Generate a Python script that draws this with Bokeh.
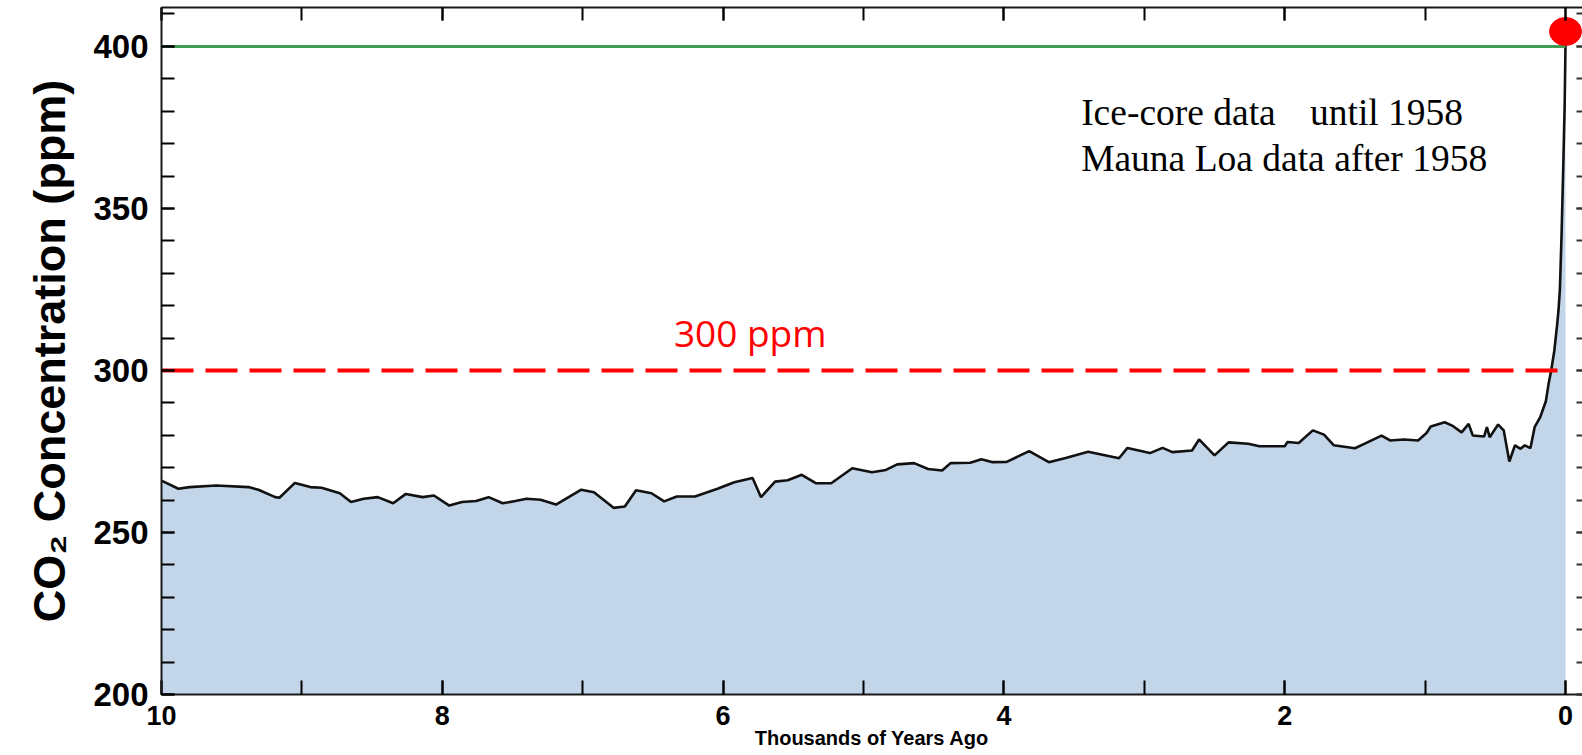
from bokeh.plotting import figure
from bokeh.models import Range1d, LinearAxis, SingleIntervalTicker, Label
from bokeh.embed import file_html
from bokeh.resources import INLINE

# ---- data (thousands of years ago, CO2 ppm) ----
years_ago = [10.0, 9.88, 9.80, 9.61, 9.38, 9.31, 9.19, 9.16, 9.05, 8.94, 8.86, 8.73, 8.65, 8.56,
             8.46, 8.35, 8.26, 8.14, 8.06, 7.95, 7.86, 7.76, 7.67, 7.57, 7.48, 7.40, 7.30, 7.19,
             7.01, 6.92, 6.78, 6.70, 6.62, 6.51, 6.42, 6.33, 6.20, 6.04, 5.92, 5.79, 5.73, 5.63,
             5.54, 5.44, 5.34, 5.23, 5.08, 4.94, 4.84, 4.76, 4.64, 4.54, 4.44, 4.38, 4.24, 4.16,
             4.08, 3.98, 3.82, 3.68, 3.56, 3.40, 3.18, 3.12, 2.96, 2.87, 2.80, 2.66, 2.61, 2.50,
             2.40, 2.26, 2.18, 2.00, 1.98, 1.90, 1.80, 1.72, 1.65, 1.50, 1.43, 1.31, 1.25, 1.15,
             1.05, 0.99, 0.96, 0.86, 0.80, 0.74, 0.69, 0.66, 0.58, 0.56, 0.54, 0.48, 0.44, 0.40,
             0.36, 0.32, 0.29, 0.25, 0.22, 0.18, 0.14, 0.12, 0.10, 0.08, 0.06, 0.05, 0.04, 0.028,
             0.016, 0.006, 0.0]
co2_ppm = [266.0, 263.5, 264.0, 264.5, 264.0, 263.2, 260.9, 260.7, 265.3, 264.0, 263.8, 262.1, 259.4, 260.4,
           260.9, 259.0, 261.9, 260.9, 261.4, 258.3, 259.4, 259.7, 260.9, 259.0, 259.7, 260.4, 260.1, 258.6,
           263.2, 262.4, 257.6, 258.0, 263.0, 262.1, 259.6, 261.1, 261.1, 263.5, 265.5, 266.8, 260.9, 265.7,
           266.1, 267.8, 265.2, 265.2, 269.8, 268.6, 269.3, 271.0, 271.4, 269.6, 269.1, 271.4, 271.5, 272.6,
           271.7, 271.8, 275.1, 271.7, 273.0, 274.9, 272.9, 276.1, 274.5, 276.1, 274.8, 275.3, 278.7, 273.8,
           277.8, 277.4, 276.6, 276.6, 277.9, 277.6, 281.5, 280.2, 276.9, 276.0, 277.4, 279.9, 278.4, 278.7,
           278.4, 280.7, 282.7, 284.0, 282.8, 280.9, 283.5, 279.9, 279.6, 282.5, 279.4, 283.3, 281.5, 271.9,
           276.9, 275.8, 276.9, 276.0, 282.5, 285.6, 290.5, 296.0, 300.5, 306.0, 314.0, 318.5, 325.0, 342.0,
           363.0, 382.0, 401.0]

latest_year = [0.0]
latest_co2 = [404.6]

level_300 = 300
level_400 = 400
ppm_label = "300 ppm"
note_line1_left = "Ice-core data"
note_line1_right = "until 1958"
note_line2 = "Mauna Loa data after 1958"
x_title = "Thousands of Years Ago"
y_title = "CO\u2082 Concentration (ppm)"

# ---- figure ----
p = figure(width=1582, height=754, output_backend="svg", toolbar_location=None,
           x_range=Range1d(10, -0.121), y_range=Range1d(200, 412.0),
           min_border_left=161, min_border_right=0, min_border_top=7, min_border_bottom=60,
           background_fill_color="white", border_fill_color="white")
p.grid.visible = False
p.outline_line_color = None

span_x = [years_ago[0], years_ago[-1]]

p.varea(x=years_ago, y1=[200] * len(years_ago), y2=co2_ppm, fill_color="#c3d5e9")
p.line(x=years_ago, y=co2_ppm, line_color="#111111", line_width=2.6)

p.line(x=span_x, y=[level_400, level_400], line_color="#3f9c52", line_width=3)
p.line(x=span_x, y=[level_300, level_300], line_color="#ff0000", line_width=4, line_dash="32 12")

p.ellipse(x=latest_year, y=latest_co2, width=32, height=28, width_units="screen",
          height_units="screen", fill_color="#ff0000", line_color="#ff0000")

# ---- axes ----
xt = SingleIntervalTicker(interval=2, num_minor_ticks=2)
yt = SingleIntervalTicker(interval=50, num_minor_ticks=5)

xa = p.xaxis[0]
xa.ticker = xt
xa.axis_label = x_title
xa.axis_label_text_font = "Liberation Sans"
xa.axis_label_text_font_style = "bold"
xa.axis_label_text_font_size = "20px"
xa.axis_label_text_color = "black"
xa.axis_label_standoff = -1
xa.major_label_text_font = "Liberation Sans"
xa.major_label_text_font_style = "bold"
xa.major_label_text_font_size = "27px"
xa.major_label_text_color = "black"
xa.major_label_standoff = 11
xa.major_tick_in = 14
xa.major_tick_out = 0
xa.minor_tick_in = 14
xa.minor_tick_out = 0
xa.axis_line_width = 2
xa.major_tick_line_width = 2
xa.minor_tick_line_width = 2
xa.axis_line_color = "#1a1a1a"

ya = p.yaxis[0]
ya.ticker = yt
ya.axis_label = y_title
ya.axis_label_text_font = "Liberation Sans"
ya.axis_label_text_font_style = "bold"
ya.axis_label_text_font_size = "45px"
ya.axis_label_text_color = "black"
ya.axis_label_standoff = 15
ya.major_label_text_font = "Liberation Sans"
ya.major_label_text_font_style = "bold"
ya.major_label_text_font_size = "33px"
ya.major_label_text_color = "black"
ya.major_label_standoff = 13
ya.major_tick_in = 13
ya.major_tick_out = 0
ya.minor_tick_in = 13
ya.minor_tick_out = 0
ya.axis_line_width = 2
ya.major_tick_line_width = 2
ya.minor_tick_line_width = 2
ya.axis_line_color = "#1a1a1a"

top = LinearAxis(ticker=xt, major_label_text_font_size="0px", major_label_standoff=0,
                 major_tick_in=13, major_tick_out=0, minor_tick_in=13, minor_tick_out=0,
                 major_tick_line_width=2, minor_tick_line_width=2, axis_line_width=2,
                 axis_line_color="#1a1a1a")
p.add_layout(top, "above")

right = LinearAxis(ticker=yt, major_label_text_font_size="0px", major_label_standoff=0,
                   major_tick_in=6, major_tick_out=0, minor_tick_in=6, minor_tick_out=0,
                   major_tick_line_width=2, minor_tick_line_width=2, axis_line_color=None,
                   major_tick_line_color="#333333", minor_tick_line_color="#333333")
p.add_layout(right, "right")

# ---- annotations ----
p.add_layout(Label(x=5.807, y=311.7, text=ppm_label, text_align="center", text_baseline="middle",
                   text_color="#ff0000", text_font="Open Sans", text_font_size="37px"))
p.add_layout(Label(x=3.45, y=379.6, text=note_line1_left, text_align="left", text_baseline="middle",
                   text_color="black", text_font="Liberation Serif", text_font_size="37.5px"))
p.add_layout(Label(x=1.82, y=379.6, text=note_line1_right, text_align="left", text_baseline="middle",
                   text_color="black", text_font="Liberation Serif", text_font_size="37.5px"))
p.add_layout(Label(x=3.45, y=365.4, text=note_line2, text_align="left", text_baseline="middle",
                   text_color="black", text_font="Liberation Serif", text_font_size="37.5px"))

open("out.html", "w").write(file_html(p, INLINE))
